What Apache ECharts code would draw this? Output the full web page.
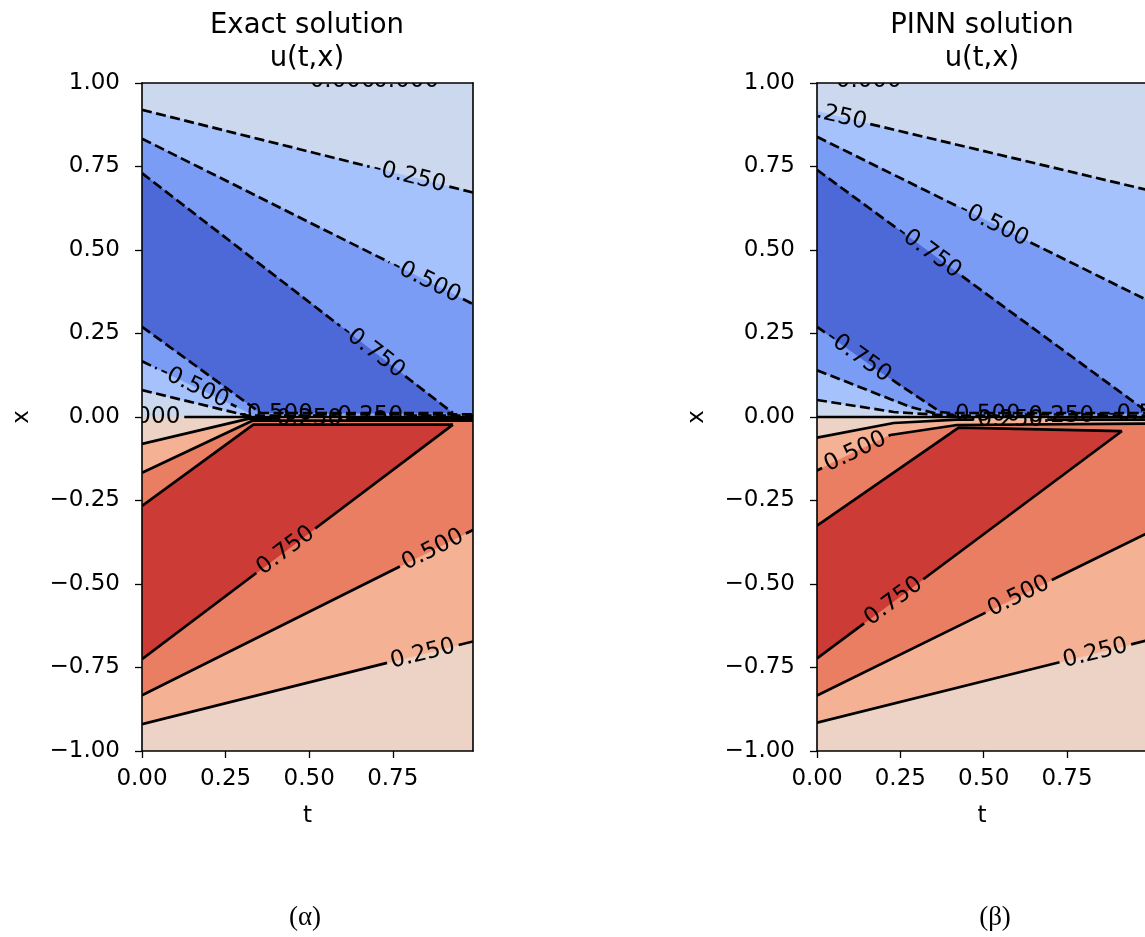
<!DOCTYPE html>
<html><head><meta charset="utf-8">
<script src="https://cdn.jsdelivr.net/npm/echarts@6/dist/echarts.min.js"></script>
<style>html,body{margin:0;padding:0;background:#fff}#c{width:1145px;height:937px}</style>
</head><body><div id="c"></div>
<script>
// ---------------- data ----------------
const levels = [-1, -0.75, -0.5, -0.25, 0, 0.25, 0.5, 0.75, 1];
const bandColors = ['#4d68d7', '#7a9cf4', '#a5c2fd', '#cbd8ee', '#ecd3c5', '#f5b194', '#ea7e63', '#cc3b35'];
const tTicks = [0, 0.25, 0.5, 0.75];
const tMax = 0.99;
const titles = ['Exact solution', 'PINN solution'];
const subTitle = 'u(t,x)';
const captions = ['(\u03b1)', '(\u03b2)'];

// filled regions: [band index, polygon in (t, x)]  (painted in order)
const exactBands = [
  [3, [[0, 0], [0.99, 0], [0.99, 1], [0, 1]]],
  [2, [[0, 0.9196], [0.99, 0.672], [0.99, 0.004], [0.315, 0.004], [0, 0.0804]]],
  [1, [[0, 0.8333], [0.99, 0.338], [0.99, 0.008], [0.33, 0.008], [0, 0.1667]]],
  [0, [[0, 0.73], [0.93, 0.012], [0.355, 0.012], [0, 0.27]]],
  [4, [[0, -1], [0.99, -1], [0.99, 0], [0, 0]]],
  [5, [[0, -0.9196], [0.99, -0.672], [0.99, -0.005], [0.32, -0.005], [0, -0.0804]]],
  [6, [[0, -0.8333], [0.99, -0.338], [0.99, -0.011], [0.33, -0.011], [0, -0.1667]]],
  [7, [[0, -0.725], [0.93, -0.023], [0.333, -0.023], [0, -0.266]]]
];
// contour lines: [level, points (t, x), label positions (t)]
const exactLines = [
  [-0.25, [[0, 0.9196], [0.99, 0.672]], [0.80]],
  [-0.5, [[0, 0.8333], [0.99, 0.338]], [0.85]],
  [-0.75, [[0, 0.73], [0.93, 0.012]], [0.69]],
  [-0.75, [[0, 0.27], [0.355, 0.012], [0.93, 0.012]], []],
  [-0.5, [[0, 0.1667], [0.33, 0.008], [0.99, 0.008]], [0.155, 0.40]],
  [-0.25, [[0, 0.0804], [0.315, 0.004], [0.99, 0.004]], [0.67]],
  [0, [[0, 0], [0.99, 0]], [0.016]],
  [0.25, [[0, -0.0804], [0.32, -0.005], [0.99, -0.005]], [0.5]],
  [0.5, [[0, -0.1667], [0.33, -0.011], [0.99, -0.011]], []],
  [0.75, [[0, -0.266], [0.333, -0.023], [0.93, -0.023]], []],
  [0.75, [[0, -0.725], [0.93, -0.023]], [0.43]],
  [0.5, [[0, -0.8333], [0.99, -0.338]], [0.87]],
  [0.25, [[0, -0.9196], [0.99, -0.672]], [0.84]]
];
const exactEdgeLabels = [[0.60, 1.006, 0], [0.79, 1.006, 0]];

const pinnBands = [
  [3, [[0, 0], [0.99, 0], [0.99, 1], [0, 1]]],
  [2, [[0, 0.915], [0.99, 0.68], [0.99, 0.004], [0.40, 0.004], [0.23, 0.015], [0, 0.051]]],
  [1, [[0, 0.839], [0.99, 0.35], [0.99, 0.008], [0.37, 0.007], [0.28, 0.03], [0, 0.14]]],
  [0, [[0, 0.74], [0.99, 0.016], [0.99, 0.012], [0.40, 0.012], [0.37, 0.015], [0.19, 0.135], [0, 0.27]]],
  [4, [[0, -1], [0.99, -1], [0.99, 0], [0, 0]]],
  [5, [[0, -0.915], [0.99, -0.669], [0.99, -0.008], [0.42, -0.008], [0.23, -0.018], [0, -0.062]]],
  [6, [[0, -0.834], [0.99, -0.348], [0.99, -0.02], [0.42, -0.024], [0.22, -0.054], [0, -0.16]]],
  [7, [[0, -0.723], [0.915, -0.042], [0.425, -0.032], [0, -0.325]]]
];
const pinnLines = [
  [-0.25, [[0, 0.915], [0.99, 0.68]], [0.04]],
  [-0.5, [[0, 0.839], [0.99, 0.35]], [0.53]],
  [-0.75, [[0, 0.74], [0.99, 0.016]], [0.335]],
  [-0.75, [[0, 0.27], [0.19, 0.135], [0.37, 0.015], [0.40, 0.012], [0.99, 0.012]], [0.124]],
  [-0.5, [[0, 0.14], [0.28, 0.03], [0.37, 0.007], [0.99, 0.008]], [0.5, 0.985]],
  [-0.25, [[0, 0.051], [0.23, 0.015], [0.40, 0.004], [0.99, 0.004]], [0.72]],
  [0, [[0, 0], [0.99, 0]], []],
  [0.25, [[0, -0.062], [0.23, -0.018], [0.42, -0.008], [0.99, -0.008]], [0.58]],
  [0.5, [[0, -0.16], [0.22, -0.054], [0.42, -0.024], [0.99, -0.02]], [0.115]],
  [0.75, [[0, -0.325], [0.425, -0.032], [0.915, -0.042]], []],
  [0.75, [[0, -0.723], [0.915, -0.042]], [0.23]],
  [0.5, [[0, -0.834], [0.99, -0.348]], [0.605]],
  [0.25, [[0, -0.915], [0.99, -0.669]], [0.835]]
];
const pinnEdgeLabels = [[0.155, 1.006, 0]];

// ---------------- drawing ----------------
const FONT = 'DejaVu Sans';
const LBL = 23;
const mctx = document.createElement('canvas').getContext('2d');
function textW(s) { mctx.font = LBL + 'px "' + FONT + '"'; return mctx.measureText(s).width; }
function lvlText(v) { return v.toFixed(3); }

function bandRenderer(bands) {
  return function (params, api) {
    const b = bands[params.dataIndex];
    const pts = b[1].map(p => api.coord(p));
    const c = bandColors[b[0]];
    return { type: 'polygon', shape: { points: pts }, style: { fill: c, stroke: c, lineWidth: 0.6 } };
  };
}

function lineRenderer(lines) {
  return function (params, api) {
    const L = lines[params.dataIndex];
    const level = L[0];
    const pts = L[1].map(p => api.coord(p));
    const cum = [0];
    for (let i = 1; i < pts.length; i++) cum.push(cum[i - 1] + Math.hypot(pts[i][0] - pts[i - 1][0], pts[i][1] - pts[i - 1][1]));
    const total = cum[cum.length - 1];
    const text = lvlText(level);
    const gapW = textW(text) + 8;
    const gaps = [], labels = [];
    L[2].forEach(tt => {
      const px = api.coord([tt, 0])[0];
      for (let i = 0; i < pts.length - 1; i++) {
        const a = pts[i], b = pts[i + 1];
        if (b[0] > a[0] && px >= a[0] && px <= b[0]) {
          const f = (px - a[0]) / (b[0] - a[0]);
          const s = cum[i] + f * (cum[i + 1] - cum[i]);
          const ang = Math.atan2(b[1] - a[1], b[0] - a[0]);
          gaps.push([s - gapW / 2, s + gapW / 2]);
          labels.push({
            type: 'text', x: a[0] + f * (b[0] - a[0]), y: a[1] + f * (b[1] - a[1]), rotation: -ang,
            style: { text: text, fill: '#000', fontSize: LBL, fontFamily: FONT, align: 'center', verticalAlign: 'middle' }
          });
          break;
        }
      }
    });
    gaps.sort((p, q) => p[0] - q[0]);
    const intervals = [];
    let start = 0;
    gaps.forEach(g => { if (g[0] > start) intervals.push([start, g[0]]); start = Math.max(start, g[1]); });
    if (start < total) intervals.push([start, total]);
    function pointAt(s) {
      for (let i = 0; i < pts.length - 1; i++) {
        if (s <= cum[i + 1] || i === pts.length - 2) {
          const seg = cum[i + 1] - cum[i];
          const f = seg > 0 ? (s - cum[i]) / seg : 0;
          return [pts[i][0] + f * (pts[i + 1][0] - pts[i][0]), pts[i][1] + f * (pts[i + 1][1] - pts[i][1])];
        }
      }
    }
    const children = [];
    intervals.forEach(iv => {
      const p = [pointAt(iv[0])];
      for (let i = 0; i < pts.length; i++) if (cum[i] > iv[0] && cum[i] < iv[1]) p.push(pts[i]);
      p.push(pointAt(iv[1]));
      const st = { stroke: '#000', lineWidth: 2.7, fill: null, lineJoin: 'round' };
      if (level < 0) st.lineDash = [10, 4.5];
      children.push({ type: 'polyline', shape: { points: p }, style: st });
    });
    return { type: 'group', children: children.concat(labels) };
  };
}

function edgeRenderer(arr) {
  return function (params, api) {
    const e = arr[params.dataIndex];
    const p = api.coord([e[0], e[1]]);
    return { type: 'text', x: p[0], y: p[1], style: { text: lvlText(e[2]), fill: '#000', fontSize: LBL, fontFamily: FONT, align: 'center', verticalAlign: 'middle' } };
  };
}

function tickFmt(v) { return (v < 0 ? '\u2212' : '') + Math.abs(v).toFixed(2); }
const axisLineStyle = { color: '#000', width: 1.6 };
const labelStyle = { color: '#000', fontSize: 23, fontFamily: FONT };

const xAxes = [], yAxes = [];
[0, 1].forEach(g => {
  xAxes.push({
    gridIndex: g, type: 'value', min: 0, max: tMax, position: 'bottom', z: 5,
    name: 't', nameLocation: 'middle', nameGap: 54, nameMoveOverlap: false,
    nameTextStyle: { color: '#000', fontSize: 23, fontFamily: FONT },
    axisLine: { show: true, onZero: false, lineStyle: axisLineStyle },
    axisTick: { show: true, length: 7, customValues: tTicks, lineStyle: { color: '#000', width: 1.3 } },
    axisLabel: Object.assign({ customValues: tTicks, formatter: tickFmt, margin: 17 }, labelStyle),
    splitLine: { show: false }
  });
  xAxes.push({
    gridIndex: g, type: 'value', min: 0, max: tMax, position: 'top', z: 5,
    axisLine: { show: true, onZero: false, lineStyle: axisLineStyle },
    axisTick: { show: false }, axisLabel: { show: false }, splitLine: { show: false }
  });
  yAxes.push({
    gridIndex: g, type: 'value', min: -1, max: 1, interval: 0.25, position: 'left', z: 5,
    name: 'x', nameLocation: 'middle', nameGap: 108, nameMoveOverlap: false,
    nameTextStyle: { color: '#000', fontSize: 23, fontFamily: FONT },
    axisLine: { show: true, onZero: false, lineStyle: axisLineStyle },
    axisTick: { show: true, length: 7, lineStyle: { color: '#000', width: 1.3 } },
    axisLabel: Object.assign({ formatter: tickFmt, margin: 22 }, labelStyle),
    splitLine: { show: false }
  });
  yAxes.push({
    gridIndex: g, type: 'value', min: -1, max: 1, interval: 0.25, position: 'right', z: 5,
    axisLine: { show: true, onZero: false, lineStyle: axisLineStyle },
    axisTick: { show: false }, axisLabel: { show: false }, splitLine: { show: false }
  });
});

function seriesFor(g, bands, lines, edges) {
  const base = { type: 'custom', xAxisIndex: g * 2, yAxisIndex: g * 2, clip: true, silent: true, animation: false };
  return [
    Object.assign({}, base, { z: 1, renderItem: bandRenderer(bands), data: bands.map(() => [0, 0]) }),
    Object.assign({}, base, { z: 2, renderItem: lineRenderer(lines), data: lines.map(() => [0, 0]) }),
    Object.assign({}, base, { z: 3, renderItem: edgeRenderer(edges), data: edges.map(() => [0, 0]) })
  ];
}

const titleStyle = { fill: '#000', fontSize: 27.5, fontFamily: FONT, align: 'center', verticalAlign: 'middle' };
const capStyle = { fill: '#000', fontSize: 27, fontFamily: 'Liberation Serif', align: 'center', verticalAlign: 'middle' };

const chart = echarts.init(document.getElementById('c'), null, { renderer: 'canvas' });
chart.setOption({
  animation: false,
  backgroundColor: '#fff',
  grid: [
    { left: 142, top: 83, width: 331, height: 668, outerBoundsMode: 'none' },
    { left: 817, top: 83, width: 330, height: 668, outerBoundsMode: 'none' }
  ],
  xAxis: xAxes,
  yAxis: yAxes,
  series: seriesFor(0, exactBands, exactLines, exactEdgeLabels).concat(seriesFor(1, pinnBands, pinnLines, pinnEdgeLabels)),
  graphic: [
    { type: 'text', x: 307, y: 25.5, style: Object.assign({ text: titles[0] }, titleStyle) },
    { type: 'text', x: 307, y: 58.5, style: Object.assign({ text: subTitle }, titleStyle) },
    { type: 'text', x: 982, y: 25.5, style: Object.assign({ text: titles[1] }, titleStyle) },
    { type: 'text', x: 982, y: 58.5, style: Object.assign({ text: subTitle }, titleStyle) },
    { type: 'text', x: 305, y: 918, style: Object.assign({ text: captions[0] }, capStyle) },
    { type: 'text', x: 995, y: 918, style: Object.assign({ text: captions[1] }, capStyle) }
  ]
});
</script>
</body></html>
